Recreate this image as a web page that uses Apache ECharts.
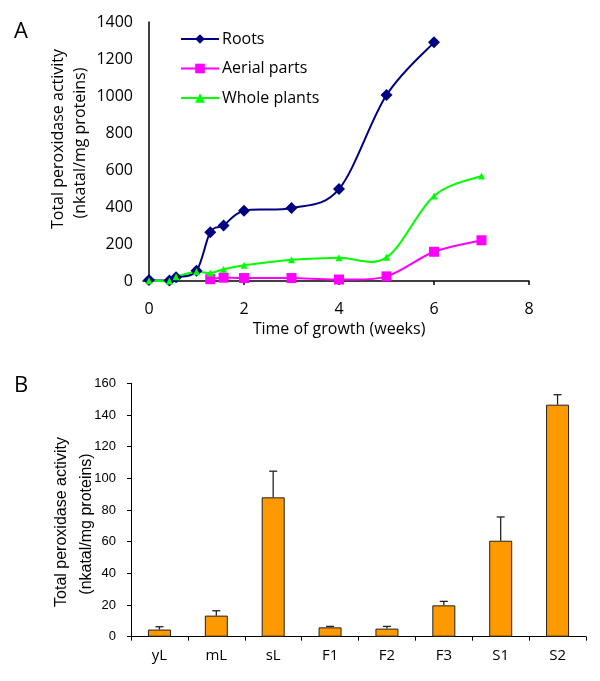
<!DOCTYPE html>
<html>
<head>
<meta charset="utf-8">
<script src="https://cdn.jsdelivr.net/npm/echarts@6/dist/echarts.min.js"></script>
<style>
html,body{margin:0;padding:0;background:#fff;}
#c{width:600px;height:681px;}
</style>
</head>
<body>
<div id="c"></div>
<script>
// ---- Panel A data ----
const weeksRoots = [0, 0.43, 0.57, 1, 1.29, 1.57, 2, 3, 4, 5, 6];
const roots = [5, 3, 20, 55, 263, 300, 380, 395, 497, 1005, 1290];
const weeksAerial = [1.29, 1.57, 2, 3, 4, 5, 6, 7];
const aerial = [10, 18, 16, 16, 8, 25, 158, 220];
const weeksWhole = [0, 0.43, 0.57, 1, 1.29, 1.57, 2, 3, 4, 5, 6, 7];
const whole = [2, 0, 23, 50, 43, 63, 85, 115, 126, 128, 460, 568];
const xTicksA = [0, 2, 4, 6, 8];

// ---- Panel B data ----
const tissues = ['yL', 'mL', 'sL', 'F1', 'F2', 'F3', 'S1', 'S2'];
const activity = [4.5, 13.3, 88, 5.9, 5.1, 19.8, 60.6, 146.5];
const errorUp = [1.8, 3.1, 16.5, 0.6, 1.4, 2.5, 15, 6.3];

const pair = (xs, ys) => xs.map((x, i) => [x, ys[i]]);
const FONT = '"Open Sans", sans-serif';
const ARIAL = '"Liberation Sans", Arial, sans-serif';

const C_ROOTS = '#000080', C_AER = '#ff00ff', C_WHOLE = '#00ff00';

// Excel-like (Catmull-Rom) smoothed curve drawn through the axis scales
function curveSeries(name, xs, ys, color) {
  const data = pair(xs, ys);
  return {
    name: name + ' curve', type: 'custom', xAxisIndex: 0, yAxisIndex: 0, silent: true,
    data: data,
    encode: {x: 0, y: 1},
    renderItem: function (params, api) {
      if (params.dataIndex !== 0) return null;
      const p = data.map(d => api.coord(d));
      const n = p.length;
      const children = [];
      for (let i = 0; i < n - 1; i++) {
        const p0 = p[i === 0 ? 0 : i - 1], p1 = p[i], p2 = p[i + 1], p3 = p[i + 2 < n ? i + 2 : n - 1];
        children.push({
          type: 'bezierCurve',
          shape: {
            x1: p1[0], y1: p1[1], x2: p2[0], y2: p2[1],
            cpx1: p1[0] + (p2[0] - p0[0]) / 6, cpy1: p1[1] + (p2[1] - p0[1]) / 6,
            cpx2: p2[0] - (p3[0] - p1[0]) / 6, cpy2: p2[1] - (p3[1] - p1[1]) / 6
          },
          style: {stroke: color, lineWidth: 2, fill: null}
        });
      }
      return {type: 'group', children: children};
    }
  };
}

function markerSeries(name, xs, ys, color, symbol, size) {
  return {
    name: name, type: 'line', xAxisIndex: 0, yAxisIndex: 0,
    data: pair(xs, ys), symbol: symbol, symbolSize: size,
    itemStyle: {color: color}, lineStyle: {color: color, width: 2, opacity: 0}
  };
}

const chart = echarts.init(document.getElementById('c'), null, {renderer: 'canvas'});

const option = {
  animation: false,
  backgroundColor: '#fff',
  legend: {
    orient: 'vertical',
    left: 175,
    top: 26,
    itemWidth: 38,
    itemHeight: 12,
    itemGap: 13.5,
    textStyle: {fontFamily: FONT, fontSize: 16, color: '#000', padding: [0, 0, 0, -2]},
    data: [
      {name: 'Roots', lineStyle: {color: C_ROOTS, width: 2, opacity: 1}},
      {name: 'Aerial parts', lineStyle: {color: C_AER, width: 2, opacity: 1}},
      {name: 'Whole plants', lineStyle: {color: C_WHOLE, width: 2, opacity: 1}}
    ]
  },
  grid: [
    {left: 143, top: 22, width: 386, height: 259},
    {left: 131, top: 383.3, width: 455, height: 253.4}
  ],
  xAxis: [
    {
      gridIndex: 0, type: 'value', min: -0.126, max: 8,
      axisLine: {lineStyle: {color: '#000', width: 1.5}},
      axisTick: {show: true, length: 4, inside: false, customValues: xTicksA, lineStyle: {color: '#000', width: 1.5}},
      axisLabel: {customValues: xTicksA, fontFamily: FONT, fontSize: 16, color: '#000', margin: 20},
      splitLine: {show: false}
    },
    {
      gridIndex: 1, type: 'category', data: tissues,
      axisLine: {lineStyle: {color: '#000', width: 1}},
      axisTick: {show: true, length: 4, alignWithLabel: false, lineStyle: {color: '#000'}},
      axisLabel: {fontFamily: FONT, fontSize: 15, color: '#000', margin: 12},
      splitLine: {show: false}
    }
  ],
  yAxis: [
    {
      gridIndex: 0, type: 'value', min: 0, max: 1400, interval: 200,
      axisLine: {show: true, lineStyle: {color: '#000', width: 1.5}},
      axisTick: {show: false},
      axisLabel: {fontFamily: FONT, fontSize: 16, color: '#000', margin: 10, formatter: v => String(v)},
      splitLine: {show: false}
    },
    {
      gridIndex: 1, type: 'value', min: 0, max: 160, interval: 20,
      axisLine: {show: true, lineStyle: {color: '#000', width: 1}},
      axisTick: {show: true, length: 4, lineStyle: {color: '#000'}},
      axisLabel: {fontFamily: ARIAL, fontSize: 13, color: '#000', margin: 15},
      splitLine: {show: false}
    }
  ],
  series: [
    curveSeries('Roots', weeksRoots, roots, C_ROOTS),
    markerSeries('Roots', weeksRoots, roots, C_ROOTS, 'diamond', 12),
    curveSeries('Aerial parts', weeksAerial, aerial, C_AER),
    markerSeries('Aerial parts', weeksAerial, aerial, C_AER, 'rect', 10),
    curveSeries('Whole plants', weeksWhole, whole, C_WHOLE),
    markerSeries('Whole plants', weeksWhole, whole, C_WHOLE, 'triangle', 7),
    {
      name: 'Activity', type: 'bar', xAxisIndex: 1, yAxisIndex: 1,
      data: activity, barWidth: 23,
      itemStyle: {color: '#ff9900', borderColor: '#222', borderWidth: 1}
    },
    {
      name: 'Error', type: 'custom', xAxisIndex: 1, yAxisIndex: 1, z: 5,
      data: tissues.map((t, i) => [i, activity[i], activity[i] + errorUp[i]]),
      encode: {x: 0, y: [1, 2]},
      renderItem: function (params, api) {
        const base = api.coord([api.value(0), api.value(1)]);
        const top = api.coord([api.value(0), api.value(2)]);
        const st = {stroke: '#222', lineWidth: 1.3};
        return {
          type: 'group',
          children: [
            {type: 'line', shape: {x1: base[0], y1: base[1], x2: base[0], y2: top[1]}, style: st},
            {type: 'line', shape: {x1: base[0] - 4, y1: top[1], x2: base[0] + 4, y2: top[1]}, style: st}
          ]
        };
      }
    }
  ],
  graphic: [
    {type: 'text', left: 14, top: 21, style: {text: 'A', font: '22px "Open Sans", sans-serif', fill: '#000'}},
    {type: 'text', left: 14, top: 375, style: {text: 'B', font: '22px "Open Sans", sans-serif', fill: '#000'}},
    {type: 'text', x: 58, y: 139, rotation: Math.PI / 2,
      style: {text: 'Total peroxidase activity', font: '16px "Open Sans", sans-serif', fill: '#000', align: 'center', verticalAlign: 'middle'}},
    {type: 'text', x: 80, y: 143, rotation: Math.PI / 2,
      style: {text: '(nkatal/mg proteins)', font: '16px "Open Sans", sans-serif', fill: '#000', align: 'center', verticalAlign: 'middle'}},
    {type: 'text', x: 339, y: 329,
      style: {text: 'Time of growth (weeks)', font: '16px "Open Sans", sans-serif', fill: '#000', align: 'center', verticalAlign: 'middle'}},
    {type: 'text', x: 62, y: 522, rotation: Math.PI / 2,
      style: {text: 'Total peroxidase activity', font: '16px "Liberation Sans", Arial, sans-serif', fill: '#000', align: 'center', verticalAlign: 'middle'}},
    {type: 'text', x: 87, y: 524, rotation: Math.PI / 2,
      style: {text: '(nkatal/mg proteins)', font: '16px "Liberation Sans", Arial, sans-serif', fill: '#000', align: 'center', verticalAlign: 'middle'}}
  ]
};
chart.setOption(option);
</script>
</body>
</html>
